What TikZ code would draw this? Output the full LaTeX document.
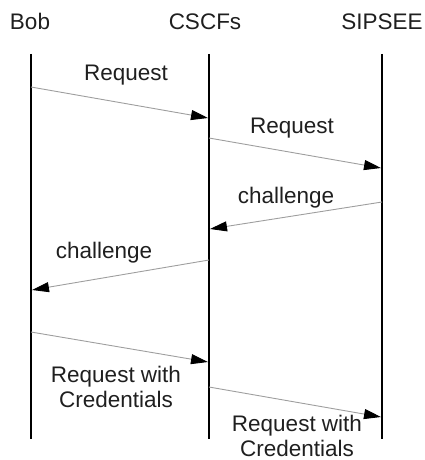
\documentclass[tikz,border=0pt]{standalone}
\usepackage{fontspec}
\setmainfont{Liberation Sans}
\usetikzlibrary{arrows.meta}
\begin{document}
\begin{tikzpicture}[x=1pt,y=-1pt,
  lifeline/.style={line width=2.6pt,black},
  msg/.style={draw=black!38,line width=0.9pt,
    -{Triangle[length=17pt,width=10pt,fill=black,color=black]}},
  actor/.style={font=\fontsize{22.5}{25}\selectfont,anchor=base,text=black!88,inner sep=0pt},
  msglabel/.style={font=\fontsize{22.5}{25}\selectfont,anchor=base,text=black!88,inner sep=0pt,align=center}]
  \useasboundingbox (0,0) rectangle (424,460);

  % participants
  \node[actor] (bob)   at (30,30)  {Bob};
  \node[actor] (cscf)  at (205,30) {CSCFs};
  \node[actor] (sip)   at (382,30) {SIPSEE};

  % lifeline ends
  \coordinate (bobT) at (31,54);   \coordinate (bobB) at (31,439);
  \coordinate (csT)  at (209,54);  \coordinate (csB)  at (209,439);
  \coordinate (sipT) at (382,54);  \coordinate (sipB) at (382,439);
  \draw[lifeline] (bobT) -- (bobB);
  \draw[lifeline] (csT) -- (csB);
  \draw[lifeline] (sipT) -- (sipB);

  % message end points on the lifelines
  \coordinate (m1s) at (31,87);   \coordinate (m1e) at (208,118);
  \coordinate (m2s) at (209,138); \coordinate (m2e) at (381,168);
  \coordinate (m3s) at (382,202); \coordinate (m3e) at (210,229);
  \coordinate (m4s) at (209,260); \coordinate (m4e) at (32,290);
  \coordinate (m5s) at (31,332);  \coordinate (m5e) at (208,362);
  \coordinate (m6s) at (209,387); \coordinate (m6e) at (381,417);

  \draw[msg] (m1s) -- (m1e);
  \draw[msg] (m2s) -- (m2e);
  \draw[msg] (m3s) -- (m3e);
  \draw[msg] (m4s) -- (m4e);
  \draw[msg] (m5s) -- (m5e);
  \draw[msg] (m6s) -- (m6e);

  % message labels (base anchor sits on the last line)
  \node[msglabel] (l1) at (126,80)  {Request};
  \node[msglabel] (l2) at (292,133) {Request};
  \node[msglabel] (l3) at (286,203) {challenge};
  \node[msglabel] (l4) at (104,258) {challenge};
  \node[msglabel] (l5) at (116,407) {Request with\\Credentials};
  \node[msglabel] (l6) at (297,456) {Request with\\Credentials};
\end{tikzpicture}
\end{document}
